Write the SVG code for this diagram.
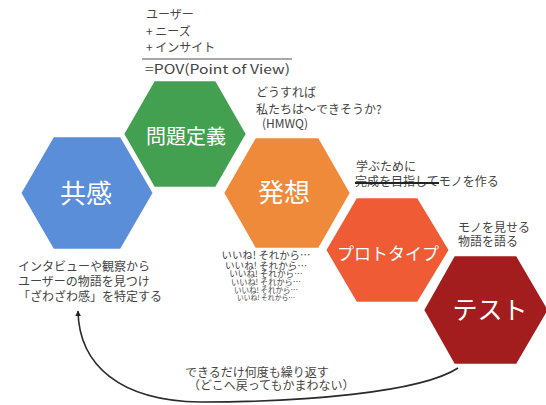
<svg xmlns="http://www.w3.org/2000/svg" width="546" height="405" viewBox="0 0 546 405">
<style>
.hex{stroke:#fff;stroke-width:2.5;stroke-linejoin:miter}
.lbl{font-family:"Noto Sans CJK JP","Noto Sans",sans-serif;fill:#fff;text-anchor:middle}
.note{font-family:"Noto Sans CJK JP","Noto Sans",sans-serif;fill:#444;font-size:12px}
.mid{text-anchor:middle}
</style>
<defs>
<marker id="arr" viewBox="0 0 10 10" refX="9" refY="5" markerWidth="6" markerHeight="6" orient="auto" markerUnits="userSpaceOnUse">
<path d="M0,0 L10,5 L0,10 z" fill="#222"/>
</marker>
</defs>
<rect width="546" height="405" fill="#fff"/>
<g id="connectors">
<path d="M458,368 C420,393 300,402 200,402 C120,401 79,365 78,311" fill="none" stroke="#2a2a2a" stroke-width="1.6" marker-end="url(#arr)"/>
</g>
<g id="empathize">
<polygon class="hex" fill="#5b8ed8" points="20,193 53,136 121,136 154,193 121,250 53,250"/>
<text class="lbl" x="86" y="203" font-size="26">共感</text>
</g>
<g id="define">
<polygon class="hex" fill="#44a051" points="123,134 154,80 216,80 247,134 216,188 154,188"/>
<text class="lbl" x="186" y="144" font-size="20">問題定義</text>
</g>
<g id="ideate">
<polygon class="hex" fill="#f08a3b" points="223,193 255,137 319,137 351,193 319,249 255,249"/>
<text class="lbl" x="284" y="202" font-size="26">発想</text>
</g>
<g id="prototype">
<polygon class="hex" fill="#ee5b34" points="325,250 356,197 418,197 450,250 418,303 356,303"/>
<text class="lbl" x="388" y="260" font-size="17">プロトタイプ</text>
</g>
<g id="test">
<polygon class="hex" fill="#a31d1e" points="423,310 454,255 517,255 549,310 517,365 454,365"/>
<text class="lbl" x="490" y="319" font-size="25">テスト</text>
</g>
<g id="pov-note">
<text class="note" x="146" y="19">ユーザー</text>
<text class="note" x="146" y="36">+ ニーズ</text>
<text class="note" x="146" y="52">+ インサイト</text>
<line x1="142" y1="59" x2="292" y2="59" stroke="#555" stroke-width="1.2"/>
<text class="note" x="145" y="74" style="font-size:13px" textLength="145" lengthAdjust="spacingAndGlyphs">=POV(Point of View)</text>
</g>
<g id="hmw-note">
<text class="note" x="256" y="97">どうすれば</text>
<text class="note" x="256" y="114">私たちは～できそうか?</text>
<text class="note" x="262" y="128">(HMWQ)</text>
</g>
<g id="proto-note">
<text class="note" x="356" y="171">学ぶために</text>
<text class="note" x="355" y="186">完成を目指してモノを作る</text>
<line x1="355" y1="183" x2="439" y2="183" stroke="#222" stroke-width="2"/>
</g>
<g id="test-note">
<text class="note" x="458" y="232">モノを見せる</text>
<text class="note" x="458" y="246">物語を語る</text>
</g>
<g id="empathize-note">
<text class="note mid" x="84" y="271">インタビューや観察から</text>
<text class="note mid" x="84" y="286">ユーザーの物語を見つけ</text>
<text class="note mid" x="90" y="301">「ざわざわ感」を特定する</text>
</g>
<g id="ideate-note">
<text class="note mid" x="266" y="259" style="font-size:10.4px">いいね! それから…</text>
<text class="note mid" x="266" y="268.5" style="font-size:9.6px">いいね! それから…</text>
<text class="note mid" x="266" y="277" style="font-size:8.6px">いいね! それから…</text>
<text class="note mid" x="266" y="285" style="font-size:8.2px">いいね! それから…</text>
<text class="note mid" x="266" y="292.5" style="font-size:7.5px">いいね! それから…</text>
<text class="note mid" x="266" y="299.5" style="font-size:6.8px">いいね! それから…</text>
</g>
<g id="loop-note">
<text class="note" x="185" y="377">できるだけ何度も繰り返す</text>
<text class="note" x="188" y="390">（どこへ戻ってもかまわない）</text>
</g>
</svg>
